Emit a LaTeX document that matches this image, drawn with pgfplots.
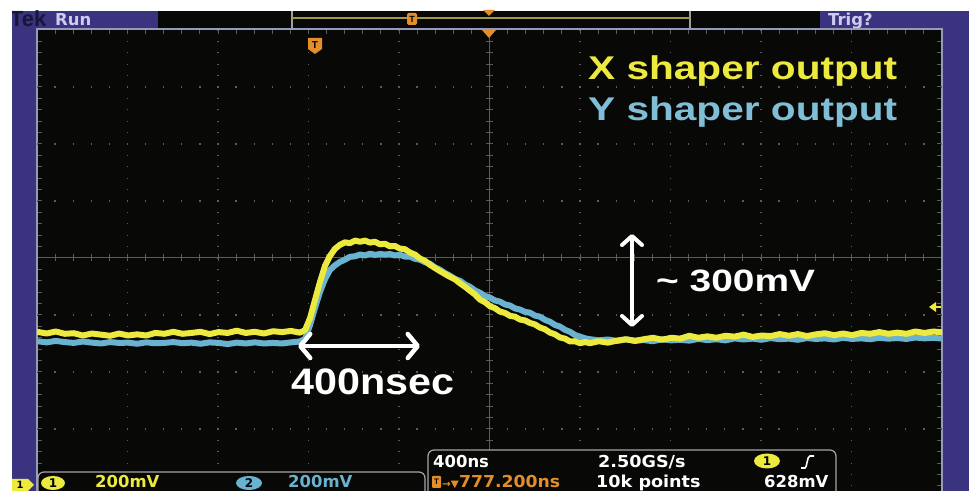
\documentclass[border=0pt]{standalone}
\usepackage{pgfplots}
\pgfplotsset{compat=1.18}
\usepackage{pgfplotstable}
\usepackage{fontspec}
\setmainfont{Liberation Sans}
\newfontfamily\scopefont{DejaVu Sans}
\usetikzlibrary{arrows.meta}

\definecolor{scopeblue}{RGB}{58,52,128}
\definecolor{scopebg}{RGB}{8,8,6}
\definecolor{gridgray}{RGB}{92,92,88}
\definecolor{bordergray}{RGB}{150,155,190}
\definecolor{ch1}{RGB}{236,234,62}
\definecolor{ch2}{RGB}{105,178,208}
\definecolor{labelY}{RGB}{128,190,215}
\definecolor{tekorange}{RGB}{228,142,42}
\definecolor{lavender}{RGB}{205,205,240}
\definecolor{recline}{RGB}{165,155,70}

% channel 1: X shaper output (time in ns from trigger, amplitude in mV)
\pgfplotstableread{
t v
-1223 -259
-1180 -265
-1140 -258
-1100 -266
-1060 -264
-1020 -272
-980 -265
-940 -269
-900 -273
-860 -265
-820 -272
-780 -268
-740 -272
-700 -263
-660 -266
-620 -259
-580 -266
-540 -263
-500 -259
-460 -267
-420 -260
-380 -263
-340 -255
-300 -263
-260 -259
-220 -265
-180 -257
-140 -260
-100 -256
-61 -262
-38 -253
-16 -211
6 -147
28 -84
50 -28
72 7
94 32
116 46
138 55
160 52
183 61
205 57
227 61
249 54
271 57
293 48
315 50
337 41
359 42
381 33
403 31
426 19
448 12
470 -2
492 -10
514 -24
536 -35
558 -46
580 -56
602 -66
625 -75
647 -89
669 -101
691 -115
713 -128
735 -146
757 -155
779 -169
801 -176
823 -188
846 -193
868 -203
890 -206
912 -216
934 -219
956 -228
978 -233
1000 -244
1022 -250
1045 -262
1067 -268
1089 -279
1111 -283
1133 -293
1155 -292
1177 -299
1200 -295
1221 -299
1260 -292
1300 -297
1340 -290
1380 -285
1420 -291
1460 -285
1500 -280
1540 -287
1580 -280
1620 -283
1660 -273
1700 -280
1740 -275
1780 -280
1820 -273
1860 -276
1900 -269
1940 -277
1980 -272
2020 -274
2060 -267
2100 -273
2140 -267
2180 -274
2220 -268
2260 -264
2300 -271
2340 -265
2380 -271
2420 -263
2460 -266
2500 -260
2540 -266
2580 -262
2620 -266
2660 -258
2700 -263
2740 -258
2778 -261
}\chone

% channel 2: Y shaper output
\pgfplotstableread{
t v
-1223 -292
-1180 -296
-1140 -291
-1100 -295
-1060 -298
-1020 -293
-980 -297
-940 -300
-900 -295
-860 -298
-820 -297
-780 -301
-740 -296
-700 -299
-660 -298
-620 -295
-580 -299
-540 -297
-500 -301
-460 -296
-420 -298
-380 -302
-340 -297
-300 -300
-260 -296
-220 -300
-180 -298
-140 -300
-100 -296
-61 -293
-38 -284
-16 -235
6 -175
28 -119
50 -74
72 -42
94 -26
116 -14
138 -6
160 4
183 6
205 12
227 9
249 15
271 11
293 14
315 12
337 14
359 9
381 11
403 5
426 5
448 -3
470 -6
492 -15
514 -20
536 -33
558 -41
580 -53
602 -62
625 -74
647 -80
669 -93
691 -101
713 -114
735 -122
757 -133
779 -139
801 -149
823 -153
846 -163
868 -167
890 -177
912 -181
934 -189
956 -192
978 -202
1000 -206
1022 -217
1045 -224
1067 -235
1089 -241
1111 -252
1133 -259
1155 -270
1177 -276
1200 -282
1221 -285
1260 -289
1300 -286
1340 -291
1380 -286
1420 -290
1460 -288
1500 -292
1540 -285
1580 -289
1620 -287
1660 -290
1700 -284
1740 -288
1780 -285
1820 -289
1860 -282
1900 -286
1940 -283
1980 -287
2020 -281
2060 -285
2100 -283
2140 -287
2180 -281
2220 -284
2260 -282
2300 -286
2340 -280
2380 -284
2420 -282
2460 -285
2500 -280
2540 -283
2580 -281
2620 -284
2660 -279
2700 -282
2740 -280
2778 -283
}\chtwo

\begin{document}
\begin{tikzpicture}[x=1bp,y=1bp]
\useasboundingbox (0,0) rectangle (969,491);
\clip (0,0) rectangle (969,491);
\fill[white] (0,0) rectangle (969,491);

% instrument frame
\fill[scopeblue] (12,0) rectangle (969,480);
\fill[scopebg] (158,462) rectangle (820,480);
\fill[scopebg] (37,0) rectangle (942,462);

% header: brand, run state, record view, trigger state
\begin{scope}
\clip (12,462) rectangle (158,480);
\node[anchor=base west, inner sep=0, text={rgb,255:red,22;green,22;blue,55},
      font=\bfseries\fontsize{22}{22}\selectfont] at (10,464) {Tek};
\end{scope}
\node[anchor=base west, inner sep=0, text=lavender,
      font=\scopefont\bfseries\fontsize{16.5}{16.5}\selectfont] at (55,465) {Run};
\node[anchor=base west, inner sep=0, text=lavender,
      font=\scopefont\bfseries\fontsize{16.5}{16.5}\selectfont] at (828,465) {Trig?};
\draw[gray!75, line width=1.2bp] (292,463) -- (292,480) (690,463) -- (690,480);
\draw[recline, line width=1.5bp] (292,473) -- (690,473);
\fill[tekorange, rounded corners=1.5bp] (407,466) rectangle (417,478);
\node[inner sep=0, text=black, font=\bfseries\fontsize{9}{9}\selectfont] at (412,472) {T};
\fill[tekorange] (483,481) -- (495,481) -- (489,475) -- cycle;

% graticule: centre cross with minor ticks, border ticks
\draw[gridgray, line width=1bp] (489.5,5) -- (489.5,462) (37,233) -- (942,233);
\foreach \k in {0,...,50} {
  \draw[gridgray, line width=1bp] ({37+\k*18.1},229.5) -- ({37+\k*18.1},236.5);
  \draw[gridgray, line width=1bp] ({37+\k*18.1},462) -- ({37+\k*18.1},457);
}
\foreach \k in {0,...,40} {
  \draw[gridgray, line width=1bp] (486,{5+\k*11.4}) -- (493,{5+\k*11.4});
  \draw[gridgray, line width=1bp] (37,{5+\k*11.4}) -- (42,{5+\k*11.4});
  \draw[gridgray, line width=1bp] (942,{5+\k*11.4}) -- (937,{5+\k*11.4});
}
\draw[bordergray, line width=1.2bp] (37,0) -- (37,462) -- (942,462) -- (942,0);

\begin{axis}[
  at={(37bp,5bp)}, anchor=south west,
  width=905bp, height=456bp, scale only axis,
  xmin=-1222.8, xmax=2777.2, ymin=-800, ymax=800,
  axis line style={draw=none}, tick style={draw=none}, major tick length=0pt,
  xticklabels={}, yticklabels={},
  xtick={-822.8,-422.8,-22.8,377.2,1177.2,1577.2,1977.2,2377.2},
  ytick={-600,-400,-200,200,400,600},
  grid=major,
  major x grid style={gridgray, line width=1.3bp, dash pattern=on 1.3bp off 10.1bp, dash phase=0.65bp},
  major y grid style={gridgray, line width=1.3bp, dash pattern=on 1.3bp off 16.8bp, dash phase=0.65bp},
]
\addplot[ch2, line width=6bp, line join=round] table[x=t, y=v] {\chtwo};
\addplot[ch1, line width=6bp, line join=round] table[x=t, y=v] {\chone};
\end{axis}

% trigger position and level markers
\fill[tekorange] (482,461) -- (496,461) -- (489,453) -- cycle;
\fill[tekorange] (308,453) -- (322,453) -- (322,442) -- (315,437) -- (308,442) -- cycle;
\node[inner sep=0, text=black, font=\bfseries\fontsize{10}{10}\selectfont] at (315,446) {T};
\fill[ch1] (929,184) -- (936,189) -- (936,179) -- cycle;
\draw[ch1, line width=1.6bp] (935,184) -- (941,184);

% annotations
\node[anchor=base west, inner sep=0, text=ch1, font=\bfseries\fontsize{33}{33}\selectfont]
  at (588,411) {\scalebox{1.235}[1]{X shaper output}};
\node[anchor=base west, inner sep=0, text=labelY, font=\bfseries\fontsize{33}{33}\selectfont]
  at (588,370) {\scalebox{1.235}[1]{Y shaper output}};
\draw[white, line width=4.5bp,
  {Straight Barb[length=10bp,width=24bp,round]}-{Straight Barb[length=10bp,width=24bp,round]}]
  (298,145) -- (420,145);
\node[anchor=base west, inner sep=0, text=white, font=\bfseries\fontsize{37}{37}\selectfont]
  at (291,96) {\scalebox{1.12}[1]{400nsec}};
\draw[white, line width=4bp,
  {Straight Barb[length=9bp,width=20bp,round]}-{Straight Barb[length=9bp,width=20bp,round]}]
  (632,164) -- (632,257);
\node[anchor=base west, inner sep=0, text=white, font=\bfseries\fontsize{31}{31}\selectfont]
  at (656,199) {\scalebox{1.26}[1]{\char`~\ 300mV}};

% channel marker
\fill[ch1] (12,0) -- (12,12) -- (28,12) -- (34,6) -- (28,0) -- cycle;
\node[inner sep=0, text=black, font=\scopefont\bfseries\fontsize{10}{10}\selectfont] at (20,6) {1};

% vertical readouts
\draw[gray!70, line width=1.2bp, fill=scopebg, rounded corners=6bp] (38,-12) rectangle (425,19);
\fill[ch1] (53,8) ellipse [x radius=12bp, y radius=7bp];
\node[inner sep=0, text=black, font=\scopefont\bfseries\fontsize{12}{12}\selectfont] at (53,7.5) {1};
\node[anchor=base west, inner sep=0, text=ch1, font=\scopefont\bfseries\fontsize{16.5}{16.5}\selectfont]
  at (95,3) {200mV};
\fill[ch2] (249,8) ellipse [x radius=13bp, y radius=7bp];
\node[inner sep=0, text=black, font=\scopefont\bfseries\fontsize{12}{12}\selectfont] at (249,7.5) {2};
\node[anchor=base west, inner sep=0, text=ch2, font=\scopefont\bfseries\fontsize{16.5}{16.5}\selectfont]
  at (288,3) {200mV};

% horizontal and trigger readouts
\draw[gray!70, line width=1.2bp, fill=scopebg, rounded corners=6bp] (428,-12) rectangle (836,41);
\node[anchor=base west, inner sep=0, text=white, font=\scopefont\bfseries\fontsize{16.5}{16.5}\selectfont]
  at (433,23) {400ns};
\node[anchor=base west, inner sep=0, text=white, font=\scopefont\bfseries\fontsize{16.5}{16.5}\selectfont]
  at (598,23) {\scalebox{1.07}[1]{2.50GS/s}};
\fill[ch1] (767,30) ellipse [x radius=13bp, y radius=7.5bp];
\node[inner sep=0, text=black, font=\scopefont\bfseries\fontsize{12}{12}\selectfont] at (767,29.5) {1};
\draw[white, line width=1.6bp] (801,23) -- (805,23) .. controls (807,23) and (807,35) .. (810,35) -- (814,35);
\fill[tekorange, rounded corners=1bp] (432,3) rectangle (441,15);
\node[inner sep=0, text=black, font=\bfseries\fontsize{8}{8}\selectfont] at (436.5,9) {T};
\node[anchor=base west, inner sep=0, text=tekorange, font=\scopefont\bfseries\fontsize{16.5}{16.5}\selectfont]
  at (442,3) {\scalebox{1.05}[1]{{\fontsize{10}{10}\selectfont→▼}777.200ns}};
\node[anchor=base west, inner sep=0, text=white, font=\scopefont\bfseries\fontsize{16.5}{16.5}\selectfont]
  at (596,3) {\scalebox{1.07}[1]{10k points}};
\node[anchor=base west, inner sep=0, text=white, font=\scopefont\bfseries\fontsize{16.5}{16.5}\selectfont]
  at (764,3) {628mV};
\end{tikzpicture}
\end{document}
